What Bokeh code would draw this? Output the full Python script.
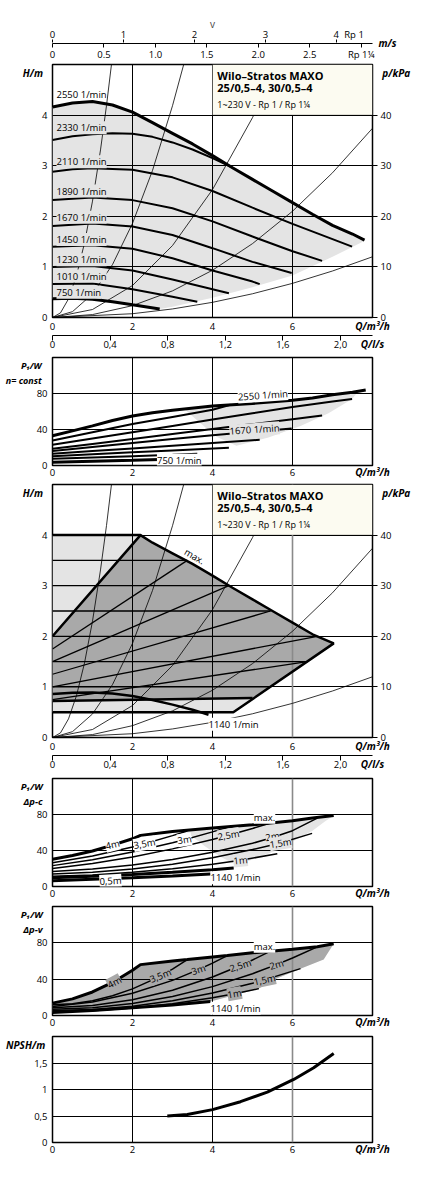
from bokeh.plotting import figure
from bokeh.models import Range1d, LinearAxis, Label, BoxAnnotation, FixedTicker, Grid
from bokeh.layouts import column
from bokeh.embed import file_html
from bokeh.resources import INLINE

FONT = "Open Sans"
TICK_FS = "9.5px"
HAS_ALIGN = "axis_label_align" in LinearAxis.properties()

# ---------------- axes / ticks ----------------
Q_TICKS = [0, 2, 4, 6]
Q_GRID = [2, 4, 6]
H_TICKS = [0, 1, 2, 3, 4]
KPA_TICKS = [0, 10, 20, 30, 40]
P_TICKS = [0, 40, 80]
NPSH_TICKS = [0, 0.5, 1, 1.5]
NPSH_LABELS = ["0", "0,5", "1", "1,5"]
LS_TICKS = [0, 0.4, 0.8, 1.2, 1.6, 2]
LS_LABELS = ["0", "0,4", "0,8", "1,2", "1,6", "2,0"]
V_RP1_TICKS = [0, 1, 2, 3, 4]
V_RP114_TICKS = [0, 0.5, 1, 1.5, 2, 2.5, 3]
V_RP114_LABELS = ["0", "0.5", "1.0", "1.5", "2.0", "2.5", "Rp 1\u00bc"]
V_RP1_MAX = 4.51
V_RP114_MAX = 3.11
LS_MAX = 8 / 3.6

# ---------------- panel 1 : H(Q) at constant speed ----------------
SPEEDS = ["2550", "2330", "2110", "1890", "1670", "1450", "1230", "1010", "750"]
q_2550 = [0, 0.5, 1, 1.5, 2, 2.5, 3, 3.5, 4, 4.5, 5, 5.5, 6, 6.5, 7, 7.5, 7.8]
h_2550 = [4.16, 4.24, 4.27, 4.2, 4.06, 3.85, 3.64, 3.43, 3.2, 2.96, 2.73, 2.5, 2.27, 2.04, 1.82, 1.65, 1.53]
q_2330 = [0, 0.5, 1, 1.5, 2, 2.5, 3, 3.5, 4, 4.45]
h_2330 = [3.51, 3.58, 3.62, 3.64, 3.63, 3.57, 3.46, 3.32, 3.15, 2.98]
q_2110 = [0, 0.5, 1, 2, 3, 4, 5, 6, 7, 7.49]
h_2110 = [2.88, 2.93, 2.95, 2.92, 2.77, 2.5, 2.17, 1.85, 1.55, 1.40]
q_1890 = [0, 1, 2, 3, 4, 5, 6, 6.74]
h_1890 = [2.32, 2.37, 2.32, 2.16, 1.9, 1.6, 1.31, 1.12]
q_1670 = [0, 1, 2, 3, 4, 5, 5.98]
h_1670 = [1.81, 1.86, 1.8, 1.63, 1.37, 1.1, 0.88]
q_1450 = [0, 1, 2, 3, 4, 5, 5.18]
h_1450 = [1.40, 1.43, 1.36, 1.17, 0.93, 0.71, 0.66]
q_1230 = [0, 1, 2, 3, 4, 4.41]
h_1230 = [1.0, 1.02, 0.93, 0.75, 0.56, 0.48]
q_1010 = [0, 1, 2, 3, 3.62]
h_1010 = [0.66, 0.67, 0.56, 0.41, 0.31]
q_750 = [0, 0.5, 1, 1.5, 2, 2.68]
h_750 = [0.37, 0.38, 0.36, 0.31, 0.25, 0.17]
LABEL_H1 = [4.4, 3.75, 3.08, 2.5, 1.98, 1.54, 1.14, 0.82, 0.5]
edge1_q = [7.82, 7.0, 6.0, 5.0, 4.0, 3.0, 2.68]
edge1_h = [1.52, 1.2, 0.83, 0.6, 0.39, 0.21, 0.17]

# system curves (read points)
sys_a_q = [0, 0.2, 0.4, 0.6, 0.8, 1.0, 1.2, 1.35, 1.474]
sys_a_h = [0, 0.092, 0.368, 0.828, 1.472, 2.3, 3.312, 4.19, 5.0]
sys_b_q = [0, 0.5, 1, 1.5, 2, 2.5, 3, 3.28]
sys_b_h = [0, 0.116, 0.465, 1.046, 1.86, 2.906, 4.185, 5.0]
sys_c_q = [0, 1, 2, 3, 4, 5, 5.63]
sys_c_h = [0, 0.158, 0.632, 1.422, 2.528, 3.95, 5.0]
sys_d_q = [0, 1, 2, 3, 4, 5, 6, 7, 8]
sys_d_h = [0, 0.058, 0.234, 0.526, 0.934, 1.46, 2.10, 2.86, 3.74]
sys_e_q = [0, 2, 3, 4, 5, 6, 7, 8]
sys_e_h = [0, 0.075, 0.169, 0.30, 0.469, 0.675, 0.919, 1.2]

# ---------------- panel 2 : P1(Q) at constant speed ----------------
pq_2550 = [0, 0.5, 1, 1.5, 2, 2.5, 3, 4, 5, 6, 6.5, 7, 7.5, 7.83]
pp_2550 = [33, 38.5, 44, 50, 55, 58.5, 61.5, 66, 69, 72.5, 75, 78.5, 81.5, 84]
pq_2330 = [0, 1, 2, 3, 4, 4.45]
pp_2330 = [27.8, 37, 46, 54, 62, 67.5]
pq_2110 = [0, 1, 2, 3, 4, 5, 6, 7, 7.49]
pp_2110 = [23, 30, 37, 44, 51, 58, 65, 71, 74]
pq_1890 = [0, 1, 2, 3, 4, 5, 6, 6.74]
pp_1890 = [18.5, 24, 29.5, 35, 40.5, 46, 51.5, 55.6]
pq_1670 = [0, 1, 2, 3, 4, 5, 5.98]
pp_1670 = [16, 20.5, 25, 29.5, 33.5, 37.5, 41]
pq_1450 = [0, 1, 2, 3, 4, 5.18]
pp_1450 = [13, 16, 19, 22, 25, 28.5]
pq_1230 = [0, 1, 2, 3, 4.41]
pp_1230 = [10.4, 12.5, 14.6, 16.8, 19.6]
pq_1010 = [0, 1, 2, 3, 3.62]
pp_1010 = [7.4, 8.9, 10.4, 11.9, 13]
pq_750 = [0, 1, 2, 2.68]
pp_750 = [3.7, 4.8, 5.9, 6.7]
band2_q = [3.3, 4, 5, 6, 6.5, 7, 7.5, 7.83, 7.6, 7.49, 6.9, 6.2, 5.4, 4.6, 4.1, 3.7, 3.3]
band2_p = [62.5, 66, 69, 72.5, 75, 78.5, 81.5, 84, 80, 74, 58, 44, 31, 22, 32, 47, 62.5]

# ---------------- panel 3 : control modes ----------------
max_q = [2.2, 2.5, 3, 3.5, 4, 4.5, 5, 5.5, 6, 6.5, 7.03]
max_h = [4.0, 3.85, 3.64, 3.43, 3.2, 2.96, 2.73, 2.5, 2.27, 2.04, 1.86]
right_edge_q = [7.03, 4.52]
right_edge_h = [1.86, 0.5]
DPC_H = [0.5, 1.0, 1.5, 2.0, 2.5, 3.0, 3.5, 4.0]
DPC_QEND = [4.52, 5.44, 6.37, 6.62, 5.45, 4.41, 3.37, 2.2]
DPV_H0 = [0.75, 1.0, 1.25, 1.5, 1.75, 2.0]
DPV_HSET = [1.5, 2.0, 2.5, 3.0, 3.5, 4.0]
DPV_QEND = [6.37, 6.62, 5.45, 4.41, 3.37, 2.2]
dpv_min_q = [0, 5.0]
dpv_min_h = [0.72, 0.78]
n1140_q = [0, 0.5, 1, 1.5, 2, 2.5, 3, 3.5, 3.9]
n1140_h = [0.86, 0.885, 0.89, 0.87, 0.82, 0.74, 0.65, 0.55, 0.45]

# ---------------- panel 4 : P1 for dp-c ----------------
c_max_q = [0, 0.5, 1, 1.5, 2, 2.2, 3, 4, 5, 6, 6.5, 7.03]
c_max_p = [30.2, 34.5, 39.5, 46, 53, 56.8, 61, 65, 68.5, 73, 76, 78.9]
c_35_q = [0, 1, 2, 2.3, 3, 3.37]
c_35_p = [26.5, 34, 44, 47.5, 56.5, 61.7]
c_30_q = [0, 1, 2, 3, 3.3, 4, 4.41]
c_30_p = [23.2, 29.8, 38.3, 48.6, 52, 60.7, 66.2]
c_25_q = [0, 1, 2, 3, 4, 4.4, 5, 5.45]
c_25_p = [19.9, 25.6, 32.9, 41.8, 52.3, 57, 64.5, 70.5]
c_20_q = [0, 1, 2, 3, 4, 5, 5.5, 6, 6.62]
c_20_p = [16.6, 19.5, 24, 30, 38, 48, 54.5, 62, 76]
c_15_q = [0, 1, 2, 3, 4, 5, 5.7, 6.49]
c_15_p = [14, 15.8, 19.4, 24.8, 32, 41, 48.3, 59]
c_10_q = [0, 1, 2, 3, 4, 4.7, 5.62]
c_10_p = [11.4, 12.9, 15.7, 19.6, 24.7, 29.1, 36.5]
c_05_q = [0, 1, 2, 3, 4, 4.53]
c_05_p = [9.6, 11.3, 13.3, 15.7, 18.5, 20.6]
c_n_q = [0, 1, 2, 3, 3.95]
c_n_p = [6.5, 8, 9.8, 11.8, 14]
band4_q = [3.3, 4, 5, 6, 6.5, 7.03, 6.8, 6.5, 6.0, 5.6, 5.0, 4.6, 4.2, 3.8, 3.3]
band4_p = [62.3, 65, 68.5, 73, 76, 78.9, 72, 62, 50, 40, 30, 24, 33, 45, 62.3]

# ---------------- panel 5 : P1 for dp-v ----------------
v_max_q = [0, 0.5, 1, 1.5, 2, 2.2, 3, 3.37, 4, 4.37, 5, 5.45, 6, 6.62, 7.03]
v_max_p = [13.6, 18.3, 25.9, 36.4, 49.8, 56, 60, 61.6, 64.5, 66, 69, 70.8, 73, 75.6, 78.9]
v_35_q = [0, 0.5, 1, 1.5, 2, 2.5, 2.7, 3, 3.37]
v_35_p = [11.8, 13, 16.2, 21.7, 29.3, 39.2, 43.8, 51, 61.6]
v_30_q = [0, 1, 2, 3, 3.65, 4, 4.37]
v_30_p = [10, 14.8, 24.4, 38.7, 50.5, 57.7, 66]
v_25_q = [0, 1, 2, 3, 4, 4.7, 5, 5.45]
v_25_p = [8.5, 10.9, 17.3, 27.8, 42.4, 55, 61.1, 70.8]
v_20_q = [0, 1, 2, 3, 4, 5, 5.6, 6, 6.62]
v_20_p = [7, 8.4, 13.1, 20.9, 31.8, 46, 56, 63.3, 75.6]
v_15_q = [0, 1, 2, 3, 4, 5, 5.3, 6.2]
v_15_p = [5.5, 6.7, 10.3, 16.3, 24.7, 35.5, 39.2, 51.6]
v_10_q = [0, 1, 2, 3, 4, 4.55, 5.16]
v_10_p = [4.4, 5.3, 8.2, 12.9, 19.6, 24, 29.6]
v_n_q = [0, 1, 2, 3, 3.95]
v_n_p = [3.3, 5.5, 8.5, 11.5, 15.5]
v_edge_q = [7.03, 6.78, 6.2, 5.53, 5.16, 3.95]
v_edge_p = [78.9, 61.6, 51.6, 39.4, 29.6, 15.5]

# ---------------- panel 6 : NPSH ----------------
npsh_q = [2.87, 3.37, 4.0, 4.7, 5.37, 6.03, 6.53, 7.03]
npsh_v = [0.5, 0.53, 0.62, 0.77, 0.95, 1.19, 1.41, 1.68]

GRAY_LIGHT = "#e4e4e4"
GRAY_DARK = "#a9a9a9"
CREAM = "#fcfbf1"


def style_axis(ax, tick_out=0, standoff=4, line=False, size=TICK_FS):
    ax.axis_line_color = "black" if line else None
    ax.axis_line_width = 1.2
    ax.major_tick_line_color = "black" if tick_out else None
    ax.major_tick_out = tick_out
    ax.major_tick_in = 0
    ax.minor_tick_line_color = None
    ax.major_label_text_font = FONT
    ax.major_label_text_font_size = size
    ax.major_label_text_color = "black"
    ax.major_label_standoff = standoff


def minor_marks(ax, out):
    ax.major_tick_line_color = None
    ax.major_tick_out = out
    ax.minor_tick_line_color = "black"
    ax.minor_tick_out = out
    ax.minor_tick_in = 0


def caption_style(ax, size="10px"):
    ax.axis_label_text_font = FONT
    ax.axis_label_text_font_size = size
    ax.axis_label_text_font_style = "bold italic"
    ax.axis_label_text_color = "black"


def set_ticks(ax, ticks, labels, caption=None, cap_pos=None, minor=None, standoff=-14,
              horizontal=False, size="10px"):
    """caption: end-aligned axis label; side captions are centred on the frame top,
    so they are padded with empty leading lines to sit just below it"""
    over = dict(zip(ticks, labels))
    tk = list(ticks)
    if caption is not None:
        if HAS_ALIGN:
            if horizontal:
                n = caption.count("\n") + 1
                ax.axis_label = "\n" * n + caption
                ax.axis_label_orientation = "horizontal"
            else:
                ax.axis_label = caption
            ax.axis_label_align = "end"
            ax.axis_label_standoff = standoff
            caption_style(ax, size)
        else:
            tk.append(cap_pos)
            over[cap_pos] = caption.replace("\n", " ")
    ax.ticker = FixedTicker(ticks=tk, minor_ticks=list(minor) if minor else [])
    ax.major_label_overrides = over


def lab(p, x, y, text, size="9.5px", align="left", baseline="middle", style="normal",
        angle=0, bg=None):
    l = Label(x=x, y=y, text=text, text_font=FONT, text_font_size=size,
              text_align=align, text_baseline=baseline, text_font_style=style,
              angle=angle, angle_units="deg", text_color="black")
    if bg:
        l.background_fill_color = bg
        l.background_fill_alpha = 1
    p.add_layout(l)


def base_fig(ymax, frame_h, top, bottom, yticks, ylabels, ygrid, ycap, ycap_pos, ycap_standoff,
             q_standoff, cap_size="10px", gray6=False, gray6_top=None):
    p = figure(frame_width=320, frame_height=frame_h, min_border_left=52, min_border_right=53,
               min_border_top=top, min_border_bottom=bottom,
               x_range=Range1d(0, 8), y_range=Range1d(0, ymax),
               toolbar_location=None, output_backend="svg")
    p.outline_line_color = "black"
    p.outline_line_width = 1.5
    p.outline_line_alpha = 1
    p.background_fill_color = "white"
    p.border_fill_color = "white"
    xa = p.below[0]
    ya = p.left[0]
    style_axis(xa, standoff=q_standoff)
    style_axis(ya, standoff=5)
    set_ticks(xa, Q_TICKS, [str(v) for v in Q_TICKS], "Q/m\u00b3/h", 7.6)
    set_ticks(ya, yticks, ylabels, ycap, ycap_pos, standoff=ycap_standoff, horizontal=True,
              size=cap_size)
    p.xgrid.ticker = FixedTicker(ticks=Q_GRID[:-1] if gray6 else Q_GRID)
    p.ygrid.ticker = FixedTicker(ticks=ygrid)
    p.grid.grid_line_color = "black"
    p.grid.grid_line_width = 1
    p.grid.grid_line_alpha = 1
    if gray6:
        g = Grid(dimension=0, ticker=FixedTicker(ticks=Q_GRID[-1:]),
                 grid_line_color="#8a8a8a", grid_line_width=1.6)
        g.bounds = (0, gray6_top if gray6_top is not None else ymax)
        p.add_layout(g)
    return p


def ls_axis(p):
    p.extra_x_ranges = {"ls": Range1d(0, LS_MAX)}
    ax = LinearAxis(x_range_name="ls")
    style_axis(ax, tick_out=5, standoff=0, line=True)
    minor_marks(ax, 5)
    set_ticks(ax, LS_TICKS, LS_LABELS, "Q/l/s", 2.155, minor=LS_TICKS)
    p.add_layout(ax, "below")


def kpa_axis(p):
    p.extra_y_ranges = {"kpa": Range1d(0, 50)}
    ax = LinearAxis(y_range_name="kpa")
    style_axis(ax, tick_out=5, standoff=3)
    minor_marks(ax, 5)
    set_ticks(ax, KPA_TICKS, [str(v) for v in KPA_TICKS], "p/kPa", 49, minor=KPA_TICKS,
              standoff=-12, horizontal=True)
    p.add_layout(ax, "right")


def title_box(p):
    p.add_layout(BoxAnnotation(left=4, right=8, bottom=4, top=5, fill_color=CREAM, fill_alpha=1,
                               line_color="black", line_width=1))
    lab(p, 4.12, 4.79, "Wilo\u2013Stratos MAXO", size="11px", style="bold")
    lab(p, 4.12, 4.55, "25/0,5\u20134, 30/0,5\u20134", size="11px", style="bold")
    lab(p, 4.12, 4.2, "1~230 V - Rp 1 / Rp 1\u00bc", size="9px")


def system_curves(p):
    for xs, ys in [(sys_a_q, sys_a_h), (sys_b_q, sys_b_h), (sys_c_q, sys_c_h),
                   (sys_d_q, sys_d_h), (sys_e_q, sys_e_h)]:
        p.line(xs, ys, line_color="black", line_width=0.8)


# ================= velocity axis strip =================
p0 = figure(frame_width=320, frame_height=1, min_border_left=52, min_border_right=53,
            min_border_top=42, min_border_bottom=18, x_range=Range1d(0, 8), y_range=Range1d(0, 1),
            toolbar_location=None, output_backend="svg", x_axis_location=None, y_axis_location=None)
p0.outline_line_color = None
p0.grid.visible = False
p0.extra_x_ranges = {"rp1": Range1d(0, V_RP1_MAX), "rp114": Range1d(0, V_RP114_MAX)}
ax_rp1 = LinearAxis(x_range_name="rp1", axis_label="v")
style_axis(ax_rp1, tick_out=3, standoff=-1)
minor_marks(ax_rp1, 3)
ax_rp1.ticker = FixedTicker(ticks=V_RP1_TICKS + [4.25], minor_ticks=V_RP1_TICKS)
ax_rp1.major_label_overrides = dict(zip(V_RP1_TICKS + [4.25], [str(v) for v in V_RP1_TICKS] + ["Rp 1"]))
ax_rp1.axis_label_text_font = FONT
ax_rp1.axis_label_text_font_size = "10px"
ax_rp1.axis_label_text_font_style = "normal"
ax_rp1.axis_label_standoff = -6
ax_rp114 = LinearAxis(x_range_name="rp114")
style_axis(ax_rp114, tick_out=4, standoff=0, line=True)
ax_rp114.ticker = FixedTicker(ticks=V_RP114_TICKS)
ax_rp114.major_label_overrides = dict(zip(V_RP114_TICKS, V_RP114_LABELS))
ax_ms = LinearAxis()
style_axis(ax_ms, standoff=6, size="10px")
ax_ms.major_label_text_font_style = "bold italic"
ax_ms.ticker = FixedTicker(ticks=[0.5])
ax_ms.major_label_overrides = {0.5: "m/s"}
p0.add_layout(ax_rp1, "above")
p0.add_layout(ax_rp114, "below")
p0.add_layout(ax_ms, "right")

# ================= panel 1 =================
p1 = base_fig(5, 253, 1, 37, H_TICKS, [str(v) for v in H_TICKS], [1, 2, 3, 4], "H/m", 4.9, -4, 5)
kpa_axis(p1)
ls_axis(p1)
curves1 = [(q_2550, h_2550), (q_2330, h_2330), (q_2110, h_2110), (q_1890, h_1890),
           (q_1670, h_1670), (q_1450, h_1450), (q_1230, h_1230), (q_1010, h_1010), (q_750, h_750)]
p1.patch(q_2550 + edge1_q + q_750[::-1], h_2550 + edge1_h + h_750[::-1],
         fill_color=GRAY_LIGHT, line_color=None, level="image")
system_curves(p1)
for i, (xs, ys) in enumerate(curves1):
    p1.line(xs, ys, line_color="black", line_width=3 if i in (0, 8) else 2)
title_box(p1)
for i, s in enumerate(SPEEDS):
    lab(p1, 0.1, LABEL_H1[i], s + " 1/min", bg=None if i == 0 else GRAY_LIGHT)

# ================= panel 2 =================
p2 = base_fig(120, 108, 3, 16, P_TICKS, [str(v) for v in P_TICKS], [40, 80],
              "P\u2081/W\nn= const", 104, -8, 3, cap_size="9px")
pcurves = [(pq_2550, pp_2550), (pq_2330, pp_2330), (pq_2110, pp_2110), (pq_1890, pp_1890),
           (pq_1670, pp_1670), (pq_1450, pp_1450), (pq_1230, pp_1230), (pq_1010, pp_1010), (pq_750, pp_750)]
p2.patch(band2_q, band2_p, fill_color=GRAY_LIGHT, line_color=None, level="image")
for i, (xs, ys) in enumerate(pcurves):
    p2.line(xs, ys, line_color="black", line_width=3 if i in (0, 8) else 2)
lab(p2, 5.26, 78, "2550 1/min", angle=4, align="center", bg="white")
lab(p2, 5.05, 40, "1670 1/min", angle=4, align="center", bg=GRAY_LIGHT)
lab(p2, 3.17, 5.9, "750 1/min", align="center", bg="white")

# ================= panel 3 =================
p3 = base_fig(5, 253, 3, 37, H_TICKS, [str(v) for v in H_TICKS], [1, 2, 3, 4], "H/m", 4.88, -4, 5,
              gray6=True, gray6_top=4)
kpa_axis(p3)
ls_axis(p3)
light_q = [0, 0] + max_q + right_edge_q[1:]
light_h = [DPC_H[0], DPC_H[-1]] + max_h + right_edge_h[1:]
p3.patch(light_q, light_h, fill_color=GRAY_LIGHT, line_color=None, level="image")
dark_q = [0] + max_q + [dpv_min_q[1], 0]
dark_h = [DPV_H0[-1]] + max_h + [dpv_min_h[1], dpv_min_h[0]]
p3.patch(dark_q, dark_h, fill_color=GRAY_DARK, line_color=None, level="image")
system_curves(p3)
p3.multi_line([[0, q] for q in DPC_QEND], [[h, h] for h in DPC_H], line_color="black", line_width=1.3)
p3.multi_line([[0, q] for q in DPV_QEND], [[a, b] for a, b in zip(DPV_H0, DPV_HSET)],
              line_color="black", line_width=1.3)
p3.line([0, DPC_QEND[-1]] + max_q[1:] + right_edge_q[1:] + [0],
        [DPC_H[-1], DPC_H[-1]] + max_h[1:] + right_edge_h[1:] + [DPC_H[0]],
        line_color="black", line_width=2.5)
p3.line([0, DPV_QEND[-1]], [DPV_H0[-1], DPV_HSET[-1]], line_color="black", line_width=2.5)
p3.line(dpv_min_q, dpv_min_h, line_color="black", line_width=2.5)
p3.line(n1140_q, n1140_h, line_color="black", line_width=2.5)
title_box(p3)
lab(p3, 3.55, 3.58, "max.", align="center", angle=-30)
lab(p3, 3.9, 0.26, "1140 1/min", bg="white")

# ================= panel 4 =================
p4 = base_fig(120, 108, 4, 15, P_TICKS, [str(v) for v in P_TICKS], [40, 80],
              "P\u2081/W\n\u0394p-c", 108, -9, 3, cap_size="9.5px", gray6=True)
p4.patch(band4_q, band4_p, fill_color=GRAY_LIGHT, line_color=None, level="image")
for xs, ys in [(c_35_q, c_35_p), (c_30_q, c_30_p), (c_25_q, c_25_p), (c_20_q, c_20_p),
               (c_15_q, c_15_p), (c_10_q, c_10_p)]:
    p4.line(xs, ys, line_color="black", line_width=1.5)
p4.line(c_max_q, c_max_p, line_color="black", line_width=3)
p4.line(c_05_q, c_05_p, line_color="black", line_width=3)
p4.line(c_n_q, c_n_p, line_color="black", line_width=3)
for x, y, t, a, bg in [(5.3, 77, "max.", 0, "white"), (1.5, 46.5, "4m", 14, "white"),
                       (2.3, 47.5, "3,5m", 10, "white"), (3.3, 52, "3m", 9, "white"),
                       (4.4, 57, "2,5m", 9, GRAY_LIGHT), (5.5, 55.5, "2m", 10, GRAY_LIGHT),
                       (5.7, 48.3, "1,5m", 9, GRAY_LIGHT), (4.7, 29.1, "1m", 6, GRAY_LIGHT),
                       (1.45, 6.3, "0,5m", 3, "white")]:
    lab(p4, x, y, t, align="center", angle=a, bg=bg)
lab(p4, 3.95, 9.6, "1140 1/min", bg="white")

# ================= panel 5 =================
p5 = base_fig(120, 109, 4, 17, P_TICKS, [str(v) for v in P_TICKS], [40, 80],
              "P\u2081/W\n\u0394p-v", 108.5, -9, 3, cap_size="9.5px", gray6=True)
p5.patch(v_max_q + v_edge_q[1:] + v_n_q[::-1], v_max_p + v_edge_p[1:] + v_n_p[::-1],
         fill_color=GRAY_DARK, line_color=None, level="image")
for xs, ys in [(v_35_q, v_35_p), (v_30_q, v_30_p), (v_25_q, v_25_p), (v_20_q, v_20_p),
               (v_15_q, v_15_p), (v_10_q, v_10_p)]:
    p5.line(xs, ys, line_color="black", line_width=1.5)
p5.line(v_max_q, v_max_p, line_color="black", line_width=3)
p5.line(v_n_q, v_n_p, line_color="black", line_width=3)
for x, y, t, a in [(5.3, 76.3, "max.", 0), (1.55, 36.4, "4m", 28), (2.7, 43.8, "3,5m", 22),
                   (3.65, 50.5, "3m", 18), (4.7, 55, "2,5m", 18), (5.6, 56, "2m", 17),
                   (5.3, 39.2, "1,5m", 12), (4.55, 24, "1m", 10)]:
    lab(p5, x, y, t, align="center", angle=a, bg="white" if t == "max." else GRAY_DARK)
lab(p5, 3.95, 8.1, "1140 1/min", bg="white")

# ================= panel 6 =================
p6 = base_fig(2, 106, 4, 21, NPSH_TICKS, NPSH_LABELS, [0.5, 1, 1.5], "NPSH/m", 1.9, -14, 3,
              gray6=True)
p6.line(npsh_q, npsh_v, line_color="black", line_width=3)

layout = column(p0, p1, p2, p3, p4, p5, p6, spacing=0)
open("out.html", "w").write(file_html(layout, INLINE))
